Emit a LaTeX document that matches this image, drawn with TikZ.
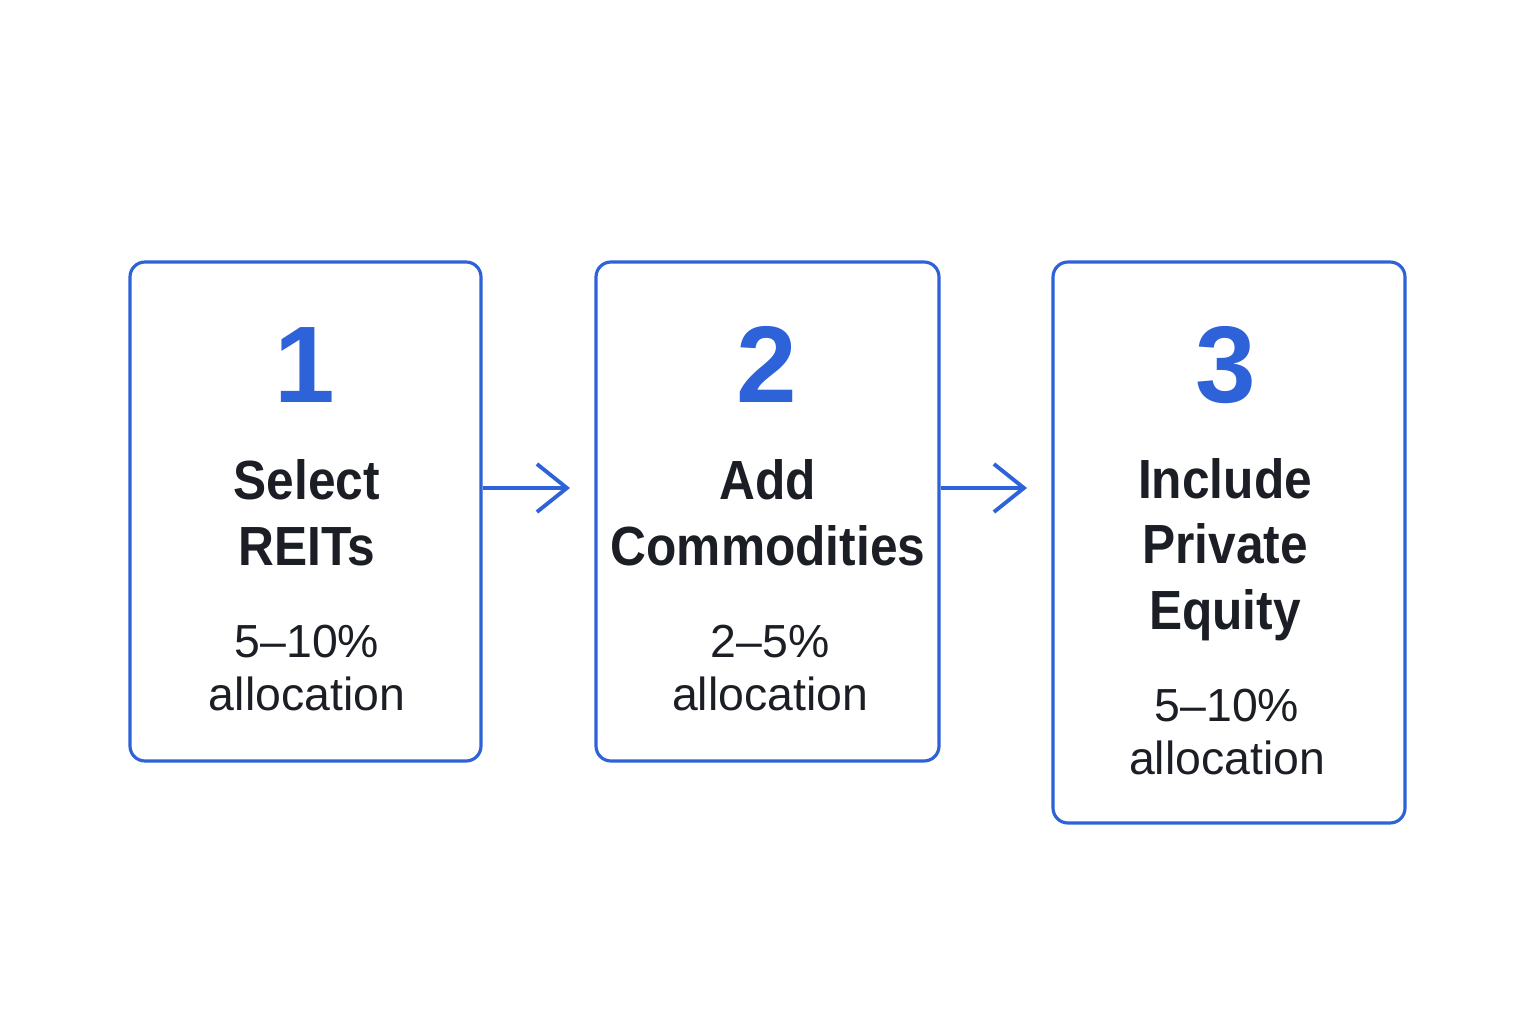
\documentclass[tikz,border=0pt]{standalone}
\usepackage{fontspec}
\setmainfont{Liberation Sans}
\newfontfamily\headfont{Liberation Sans}[FakeStretch=0.9]
\usetikzlibrary{arrows.meta}
\definecolor{stepblue}{HTML}{2D62D8}
\definecolor{inkdark}{HTML}{1B1E24}

\begin{document}
\begin{tikzpicture}[
		card/.style={draw=stepblue, line width=0.9pt, rounded corners=0.15cm, inner sep=0},
		num/.style={anchor=base, text=stepblue, inner sep=0, font=\fontsize{31}{31}\selectfont\bfseries},
		title/.style={anchor=base, text=inkdark, align=center, inner sep=0, font=\headfont\fontsize{15.7}{18.5}\selectfont\bfseries},
		share/.style={anchor=base, text=inkdark, align=center, inner sep=0, font=\fontsize{13.2}{14.8}\selectfont},
		flow/.style={draw=stepblue, line width=1.1pt, -{Straight Barb[length=0.3cm,width=0.48cm]}}]
				\useasboundingbox (0,0) rectangle (15.36,10.24);
				
				% the three cards
				\node[card, minimum width=3.51cm, minimum height=4.99cm] (box1) at (3.055,5.125) {};
				\node[card, minimum width=3.43cm, minimum height=4.99cm] (box2) at (7.675,5.125) {};
				\node[card, minimum width=3.52cm, minimum height=5.61cm] (box3) at (12.29,4.815) {};
				
				\node[num] (n1) at (3.05,6.22) {1};
				\node[title] (t1) at (3.07,4.59) {Select\\REITs};
				\node[share] (s1) at (3.07,3.14) {5–10\%\\allocation};
				
				\node[num] (n2) at (7.67,6.22) {2};
				\node[title] (t2) at (7.68,4.59) {Add\\Commodities};
				\node[share] (s2) at (7.70,3.14) {2–5\%\\allocation};
				
				\node[num] (n3) at (12.26,6.22) {3};
				\node[title] (t3) at (12.25,3.95) {Include\\Private\\Equity};
				\node[share] (s3) at (12.27,2.50) {5–10\%\\allocation};
				
				% arrows between cards
				\coordinate (tip1) at (5.70,5.36);
				\coordinate (tip2) at (10.27,5.36);
				\draw[flow] (box1.east |- tip1) -- (tip1);
				\draw[flow] (box2.east |- tip2) -- (tip2);
			\end{tikzpicture}
\end{document}
